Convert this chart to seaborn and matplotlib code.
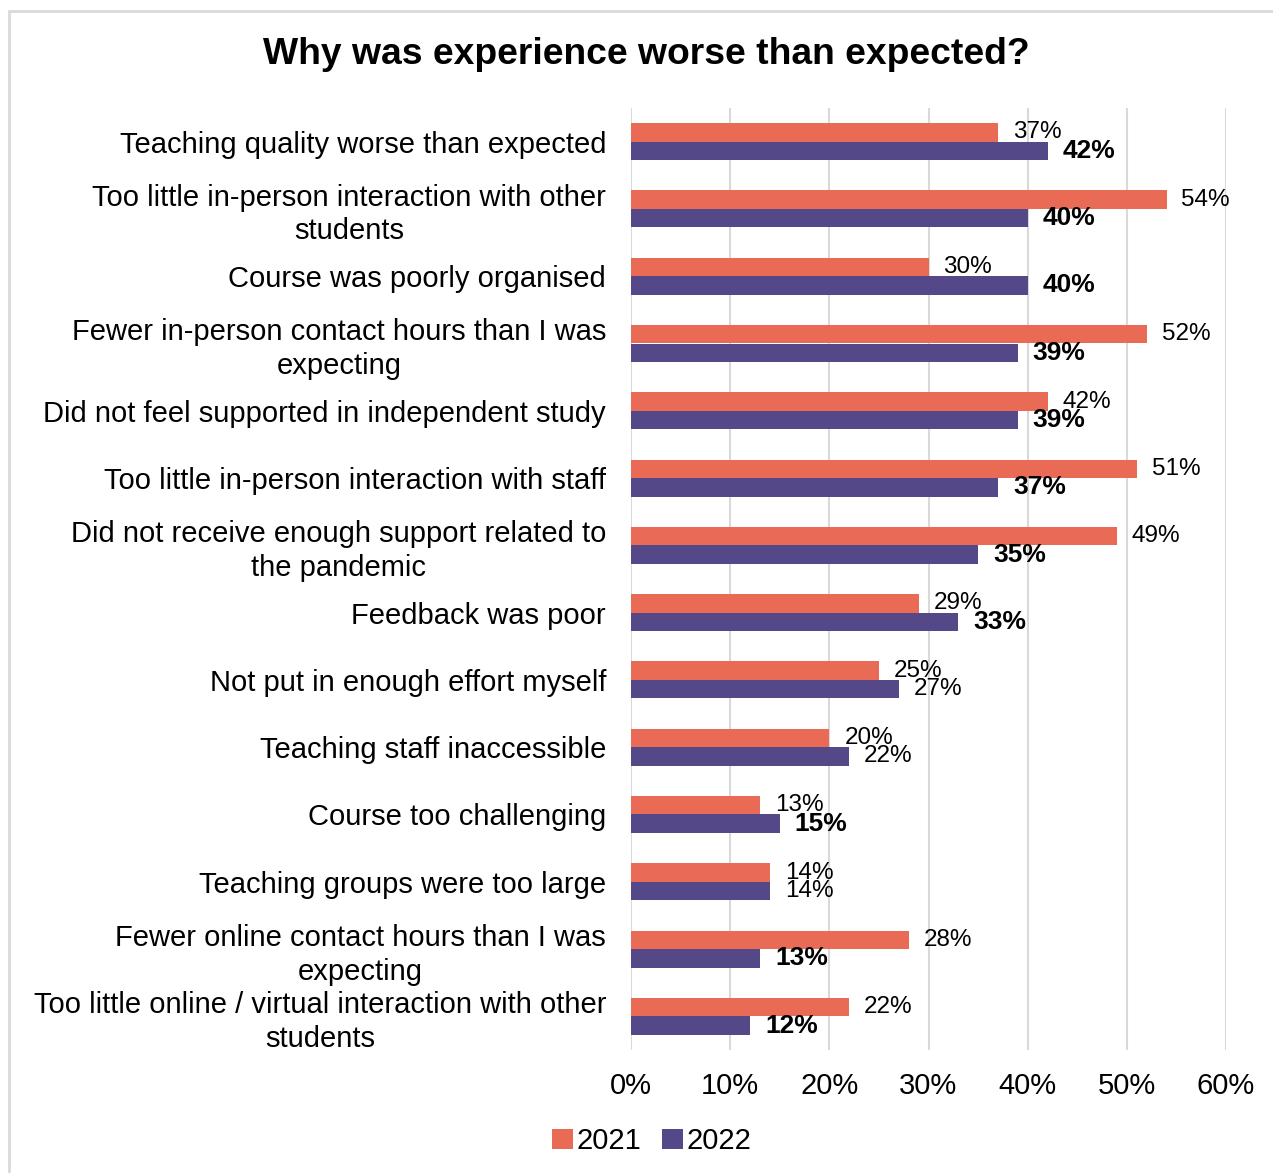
import matplotlib
matplotlib.use("Agg")
import matplotlib.pyplot as plt
from matplotlib.patches import Rectangle, Patch
import seaborn as sns
import pandas as pd

categories = [
    "Teaching quality worse than expected",
    "Too little in-person interaction with other\nstudents",
    "Course was poorly organised",
    "Fewer in-person contact hours than I was\nexpecting",
    "Did not feel supported in independent study",
    "Too little in-person interaction with staff",
    "Did not receive enough support related to\nthe pandemic",
    "Feedback was poor",
    "Not put in enough effort myself",
    "Teaching staff inaccessible",
    "Course too challenging",
    "Teaching groups were too large",
    "Fewer online contact hours than I was\nexpecting",
    "Too little online / virtual interaction with other\nstudents",
]
values_2021 = [37, 54, 30, 52, 42, 51, 49, 29, 25, 20, 13, 14, 28, 22]
values_2022 = [42, 40, 40, 39, 39, 37, 35, 33, 27, 22, 15, 14, 13, 12]
bold_2022 = [True, True, True, True, True, True, True, True, False, False, True, False, True, True]
years = ["2021", "2022"]
colors = ["#E96A55", "#554888"]
x_ticks = [0, 10, 20, 30, 40, 50, 60]

df = pd.DataFrame({
    "category": categories * 2,
    "year": [years[0]] * len(categories) + [years[1]] * len(categories),
    "value": values_2021 + values_2022,
})

sns.set_theme(style="white")
plt.rcParams["font.family"] = ["Liberation Sans", "DejaVu Sans"]
plt.rcParams["text.color"] = "black"
plt.rcParams["xtick.color"] = "black"
plt.rcParams["ytick.color"] = "black"

W, H = 1273, 1173
fig = plt.figure(figsize=(W / 100, H / 100), dpi=100)
ax = fig.add_axes([631 / W, 1 - 1050 / H, (1226 - 631) / W, (1050 - 108) / H])

sns.barplot(data=df, x="value", y="category", hue="year", order=categories,
            hue_order=years, palette=colors, width=0.55, orient="h",
            saturation=1, ax=ax, legend=False, linewidth=0, edgecolor="none")

ax.set_xlim(0, 60)
ax.set_xticks(x_ticks)
ax.set_xticklabels([f"{t}%" for t in x_ticks], fontsize=21)
ax.tick_params(axis="x", length=0, pad=16)
ax.tick_params(axis="y", length=0, pad=18, labelsize=21)
ax.set_xlabel("")
ax.set_ylabel("")
for lbl in ax.get_yticklabels():
    lbl.set_horizontalalignment("right")
    lbl.set_multialignment("center")
    lbl.set_linespacing(1.25)
for s in ax.spines.values():
    s.set_visible(False)
ax.grid(axis="x", color="#D9D9D9", linewidth=1.5)
ax.set_axisbelow(True)

# value labels next to each bar
for ci, cont in enumerate(ax.containers):
    vals = values_2021 if ci == 0 else values_2022
    for i, bar in enumerate(cont):
        y = bar.get_y() + bar.get_height() / 2
        weight = "bold" if (ci == 1 and bold_2022[i]) else "normal"
        ax.annotate(f"{vals[i]}%", xy=(vals[i], y), xytext=(15, 0),
                    textcoords="offset pixels", va="center", ha="left",
                    fontsize=17.5 if weight == "normal" else 19,
                    fontweight=weight, color="black")

fig.text(646 / W, 1 - 55 / H, "Why was experience worse than expected?",
         ha="center", va="center", fontsize=26.8, fontweight="bold")

handles = [Patch(facecolor=c, edgecolor="none") for c in colors]
fig.legend(handles, years, loc="center", bbox_to_anchor=(652 / W, 1 - 1141 / H),
           ncol=2, frameon=False, fontsize=21, handlelength=0.7, handleheight=0.7,
           handletextpad=0.15, columnspacing=0.7)

fig.patches.append(Rectangle((9 / W, -0.05), 1.1, 1 - 11 / H + 0.05,
                             transform=fig.transFigure, fill=False,
                             edgecolor="#D9D9D9", linewidth=2))

fig.savefig("out.png", dpi=100)
